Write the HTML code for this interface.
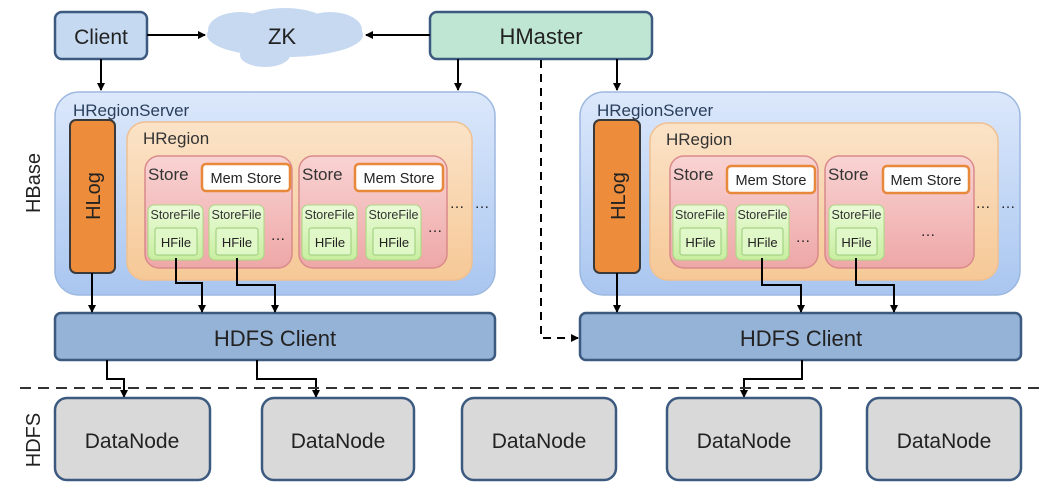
<!DOCTYPE html>
<html><head><meta charset="utf-8"><style>
html,body{margin:0;padding:0;background:#fff;}
svg{display:block;font-family:"Liberation Sans",sans-serif;}
</style></head><body>
<svg width="1063" height="498" viewBox="0 0 1063 498" xmlns="http://www.w3.org/2000/svg">
<defs>
<marker id="ah" markerWidth="8" markerHeight="8" refX="7" refY="4" orient="auto" markerUnits="userSpaceOnUse"><path d="M0,0 L8,4 L0,8 z" fill="#000"/></marker>
<linearGradient id="gsrv" x1="0" y1="0" x2="0" y2="1"><stop offset="0" stop-color="#dce8fb"/><stop offset="1" stop-color="#a9c6f0"/></linearGradient>
<linearGradient id="greg" x1="0" y1="0" x2="0" y2="1"><stop offset="0" stop-color="#fbe3c8"/><stop offset="1" stop-color="#f6c896"/></linearGradient>
<linearGradient id="gsto" x1="0" y1="0" x2="0" y2="1"><stop offset="0" stop-color="#f9d3d3"/><stop offset="1" stop-color="#eea7a7"/></linearGradient>
<linearGradient id="gsf" x1="0" y1="0" x2="0" y2="1"><stop offset="0" stop-color="#eafbd8"/><stop offset="1" stop-color="#c8eea0"/></linearGradient>
</defs>

<!-- top -->
<rect x="55" y="12" width="92" height="47" rx="7" fill="#c5d9f1" stroke="#3c5a80" stroke-width="2.5"/>
<text x="101" y="44" font-size="21" text-anchor="middle" fill="#222">Client</text>
<g fill="#c6d9f0">
<ellipse cx="285" cy="35" rx="78" ry="22"/>
<ellipse cx="240" cy="30" rx="32" ry="18"/>
<ellipse cx="330" cy="30" rx="32" ry="18"/>
<ellipse cx="285" cy="22" rx="40" ry="14"/>
<ellipse cx="265" cy="55" rx="25" ry="12"/>
</g>
<text x="282" y="44" font-size="22" text-anchor="middle" fill="#222">ZK</text>
<rect x="430" y="12" width="222" height="47" rx="7" fill="#bfe6d2" stroke="#3c5a80" stroke-width="2.5"/>
<text x="541" y="44" font-size="22" text-anchor="middle" fill="#222">HMaster</text>

<g stroke="#000" stroke-width="2" fill="none">
<line x1="147" y1="35" x2="205" y2="35" marker-end="url(#ah)"/>
<line x1="430" y1="35" x2="366" y2="35" marker-end="url(#ah)"/>
<line x1="101" y1="59" x2="101" y2="90" marker-end="url(#ah)"/>
<line x1="458" y1="59" x2="458" y2="90" marker-end="url(#ah)"/>
<line x1="617" y1="59" x2="617" y2="90" marker-end="url(#ah)"/>
<polyline points="541,60 541,338 578,338" stroke-dasharray="8,6" marker-end="url(#ah)"/>
</g>

<!-- left server -->
<rect x="55" y="92" width="440" height="203" rx="24" fill="url(#gsrv)" stroke="#9db8e0" stroke-width="1.5"/>
<text x="73" y="116" font-size="17" fill="#2a3f5c">HRegionServer</text>
<rect x="70" y="120" width="45" height="153" rx="6" fill="#ed8c3b" stroke="#3a3a3a" stroke-width="2"/>
<text transform="translate(100,196) rotate(-90)" font-size="20" text-anchor="middle" fill="#222">HLog</text>
<rect x="127" y="122" width="345" height="158" rx="18" fill="url(#greg)" stroke="#f0c090" stroke-width="1.5"/>
<text x="143" y="144" font-size="17" fill="#333">HRegion</text>

<rect x="145" y="156" width="147" height="112" rx="14" fill="url(#gsto)" stroke="#d98a8a" stroke-width="1.5"/>
<text x="148" y="180" font-size="17" fill="#333">Store</text>
<rect x="202" y="164" width="88" height="27" rx="4" fill="#fff" stroke="#e8883a" stroke-width="2.5"/>
<text x="246" y="183" font-size="14.5" text-anchor="middle" fill="#222">Mem Store</text>
<rect x="148" y="205" width="55" height="55" rx="6" fill="url(#gsf)" stroke="#a8d880"/>
<text x="175.5" y="219" font-size="12.5" text-anchor="middle" fill="#333">StoreFile</text>
<rect x="155" y="228" width="42" height="27" rx="2" fill="#e0f7c8" stroke="#9acb78"/>
<text x="176" y="247" font-size="13" text-anchor="middle" fill="#222">HFile</text>
<rect x="209" y="205" width="55" height="55" rx="6" fill="url(#gsf)" stroke="#a8d880"/>
<text x="236.5" y="219" font-size="12.5" text-anchor="middle" fill="#333">StoreFile</text>
<rect x="216" y="228" width="42" height="27" rx="2" fill="#e0f7c8" stroke="#9acb78"/>
<text x="237" y="247" font-size="13" text-anchor="middle" fill="#222">HFile</text>
<text x="278" y="240" font-size="15" text-anchor="middle" fill="#222">…</text>

<rect x="299" y="156" width="148" height="112" rx="14" fill="url(#gsto)" stroke="#d98a8a" stroke-width="1.5"/>
<text x="302" y="180" font-size="17" fill="#333">Store</text>
<rect x="355" y="164" width="88" height="27" rx="4" fill="#fff" stroke="#e8883a" stroke-width="2.5"/>
<text x="399" y="183" font-size="14.5" text-anchor="middle" fill="#222">Mem Store</text>
<rect x="302" y="205" width="55" height="55" rx="6" fill="url(#gsf)" stroke="#a8d880"/>
<text x="329.5" y="219" font-size="12.5" text-anchor="middle" fill="#333">StoreFile</text>
<rect x="309" y="228" width="42" height="27" rx="2" fill="#e0f7c8" stroke="#9acb78"/>
<text x="330" y="247" font-size="13" text-anchor="middle" fill="#222">HFile</text>
<rect x="366" y="205" width="55" height="55" rx="6" fill="url(#gsf)" stroke="#a8d880"/>
<text x="393.5" y="219" font-size="12.5" text-anchor="middle" fill="#333">StoreFile</text>
<rect x="373" y="228" width="42" height="27" rx="2" fill="#e0f7c8" stroke="#9acb78"/>
<text x="394" y="247" font-size="13" text-anchor="middle" fill="#222">HFile</text>
<text x="435" y="232" font-size="15" text-anchor="middle" fill="#222">…</text>
<text x="457" y="208" font-size="15" text-anchor="middle" fill="#222">…</text>
<text x="482" y="208" font-size="15" text-anchor="middle" fill="#222">…</text>

<rect x="55" y="313" width="440" height="47" rx="6" fill="#95b3d7" stroke="#3c5a80" stroke-width="2.5"/>
<text x="275" y="346" font-size="22" text-anchor="middle" fill="#222">HDFS Client</text>

<!-- right server -->
<rect x="580" y="92" width="440" height="203" rx="24" fill="url(#gsrv)" stroke="#9db8e0" stroke-width="1.5"/>
<text x="597" y="116" font-size="17" fill="#2a3f5c">HRegionServer</text>
<rect x="594" y="120" width="46" height="153" rx="6" fill="#ed8c3b" stroke="#3a3a3a" stroke-width="2"/>
<text transform="translate(625,196) rotate(-90)" font-size="20" text-anchor="middle" fill="#222">HLog</text>
<rect x="650" y="123" width="348" height="157" rx="18" fill="url(#greg)" stroke="#f0c090" stroke-width="1.5"/>
<text x="666" y="145" font-size="17" fill="#333">HRegion</text>

<rect x="670" y="156" width="148" height="112" rx="14" fill="url(#gsto)" stroke="#d98a8a" stroke-width="1.5"/>
<text x="673" y="180" font-size="17" fill="#333">Store</text>
<rect x="727" y="166" width="88" height="27" rx="4" fill="#fff" stroke="#e8883a" stroke-width="2.5"/>
<text x="771" y="185" font-size="14.5" text-anchor="middle" fill="#222">Mem Store</text>
<rect x="673" y="205" width="54" height="55" rx="6" fill="url(#gsf)" stroke="#a8d880"/>
<text x="700" y="219" font-size="12.5" text-anchor="middle" fill="#333">StoreFile</text>
<rect x="680" y="228" width="41" height="27" rx="2" fill="#e0f7c8" stroke="#9acb78"/>
<text x="700.5" y="247" font-size="13" text-anchor="middle" fill="#222">HFile</text>
<rect x="736" y="205" width="53" height="55" rx="6" fill="url(#gsf)" stroke="#a8d880"/>
<text x="762.5" y="219" font-size="12.5" text-anchor="middle" fill="#333">StoreFile</text>
<rect x="742" y="228" width="41" height="27" rx="2" fill="#e0f7c8" stroke="#9acb78"/>
<text x="762.5" y="247" font-size="13" text-anchor="middle" fill="#222">HFile</text>
<text x="803" y="242" font-size="15" text-anchor="middle" fill="#222">…</text>

<rect x="825" y="156" width="149" height="112" rx="14" fill="url(#gsto)" stroke="#d98a8a" stroke-width="1.5"/>
<text x="828" y="180" font-size="17" fill="#333">Store</text>
<rect x="883" y="166" width="86" height="27" rx="4" fill="#fff" stroke="#e8883a" stroke-width="2.5"/>
<text x="926" y="185" font-size="14.5" text-anchor="middle" fill="#222">Mem Store</text>
<rect x="829" y="205" width="55" height="55" rx="6" fill="url(#gsf)" stroke="#a8d880"/>
<text x="856.5" y="219" font-size="12.5" text-anchor="middle" fill="#333">StoreFile</text>
<rect x="836" y="228" width="41" height="27" rx="2" fill="#e0f7c8" stroke="#9acb78"/>
<text x="856.5" y="247" font-size="13" text-anchor="middle" fill="#222">HFile</text>
<text x="928" y="236" font-size="15" text-anchor="middle" fill="#222">…</text>
<text x="983" y="208" font-size="15" text-anchor="middle" fill="#222">…</text>
<text x="1008" y="208" font-size="15" text-anchor="middle" fill="#222">…</text>

<rect x="580" y="313" width="441" height="47" rx="6" fill="#95b3d7" stroke="#3c5a80" stroke-width="2.5"/>
<text x="801" y="346" font-size="22" text-anchor="middle" fill="#222">HDFS Client</text>

<!-- connectors to HDFS client -->
<g stroke="#000" stroke-width="2" fill="none">
<line x1="92" y1="273" x2="92" y2="312" marker-end="url(#ah)"/>
<polyline points="176,258 176,283 202,283 202,312" marker-end="url(#ah)"/>
<polyline points="237,258 237,285 275,285 275,312" marker-end="url(#ah)"/>
<line x1="617" y1="273" x2="617" y2="312" marker-end="url(#ah)"/>
<polyline points="762,258 762,285 801,285 801,312" marker-end="url(#ah)"/>
<polyline points="856,258 856,285 894,285 894,312" marker-end="url(#ah)"/>
<polyline points="107,360 107,379 124,379 124,397" marker-end="url(#ah)"/>
<polyline points="257,360 257,379 316,379 316,397" marker-end="url(#ah)"/>
<polyline points="802,360 802,379 744,379 744,397" marker-end="url(#ah)"/>
<line x1="20" y1="388" x2="1040" y2="388" stroke-dasharray="11,7" stroke="#333"/>
</g>

<!-- datanodes -->
<g fill="#d9d9d9" stroke="#3c5a80" stroke-width="2.5">
<rect x="55" y="398" width="155" height="82" rx="12"/>
<rect x="262" y="398" width="152" height="82" rx="12"/>
<rect x="462" y="398" width="154" height="82" rx="12"/>
<rect x="667" y="398" width="154" height="82" rx="12"/>
<rect x="867" y="398" width="154" height="82" rx="12"/>
</g>
<g font-size="21" text-anchor="middle" fill="#222">
<text x="132" y="448">DataNode</text>
<text x="338" y="448">DataNode</text>
<text x="539" y="448">DataNode</text>
<text x="744" y="448">DataNode</text>
<text x="944" y="448">DataNode</text>
</g>

<text transform="translate(40,183) rotate(-90)" font-size="20" text-anchor="middle" fill="#222">HBase</text>
<text transform="translate(40,440) rotate(-90)" font-size="20" text-anchor="middle" fill="#222">HDFS</text>
</svg>
</body></html>
